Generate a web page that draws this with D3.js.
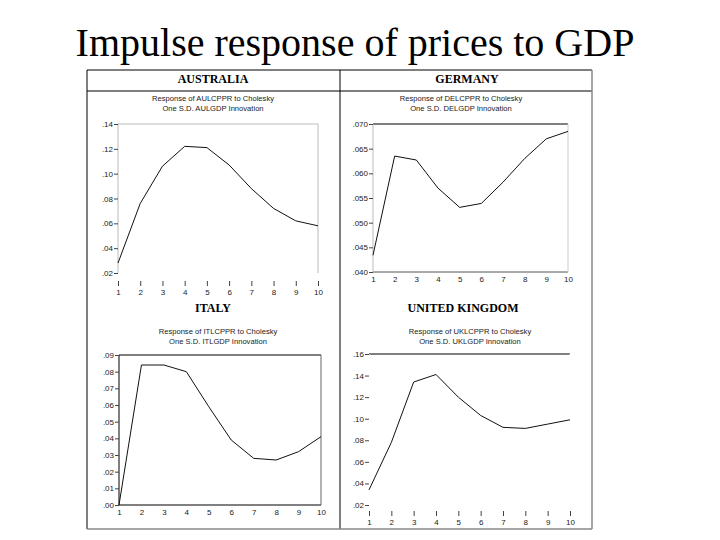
<!DOCTYPE html>
<html><head><meta charset="utf-8">
<script src="https://cdn.jsdelivr.net/npm/d3@7"></script>
<style>body{margin:0;background:#fff}svg{display:block}</style>
</head><body>
<script>
// ---- data ----
const title = "Impulse response of prices to GDP";
const periods = [1,2,3,4,5,6,7,8,9,10];
const countries = ["AUSTRALIA","GERMANY","ITALY","UNITED KINGDOM"];
const subtitles1 = ["Response of AULCPPR to Cholesky","Response of DELCPPR to Cholesky","Response of ITLCPPR to Cholesky","Response of UKLCPPR to Cholesky"];
const subtitles2 = ["One S.D. AULGDP Innovation","One S.D. DELGDP Innovation","One S.D. ITLGDP Innovation","One S.D. UKLGDP Innovation"];
const australia = [0.028,0.076,0.106,0.122,0.121,0.107,0.088,0.072,0.062,0.058];
const germany   = [0.0434,0.0635,0.0627,0.0570,0.0531,0.0539,0.0582,0.0630,0.0670,0.0685];
const italy     = [0.000,0.084,0.084,0.080,0.059,0.039,0.028,0.027,0.032,0.041];
const uk        = [0.034,0.078,0.134,0.141,0.120,0.103,0.092,0.091,0.095,0.099];
const ticksAU = [0.02,0.04,0.06,0.08,0.10,0.12,0.14];
const ticksDE = [0.040,0.045,0.050,0.055,0.060,0.065,0.070];
const ticksIT = [0.00,0.01,0.02,0.03,0.04,0.05,0.06,0.07,0.08,0.09];
const ticksUK = [0.02,0.04,0.06,0.08,0.10,0.12,0.14,0.16];

const W=720,H=540;
const svg=d3.select("body").append("svg").attr("width",W).attr("height",H);

// title
svg.append("text").attr("x",355).attr("y",56).attr("text-anchor","middle")
  .attr("font-family","Liberation Serif, Times New Roman, serif").attr("font-size",40)
  .attr("fill","#000").text(title);

// outer box
const box={l:87,r:592,t:70,b:529,mid:340,hdr:91};
svg.append("line").attr("x1",box.l).attr("x2",box.r).attr("y1",box.t).attr("y2",box.t).attr("stroke","#000");
svg.append("line").attr("x1",box.l).attr("x2",box.r).attr("y1",box.hdr).attr("y2",box.hdr).attr("stroke","#000");
svg.append("line").attr("x1",box.l).attr("x2",box.l).attr("y1",box.t).attr("y2",box.b).attr("stroke","#000");
svg.append("line").attr("x1",box.mid).attr("x2",box.mid).attr("y1",box.t).attr("y2",box.b).attr("stroke","#000");
svg.append("line").attr("x1",box.r).attr("x2",box.r).attr("y1",box.t).attr("y2",box.b).attr("stroke","#888").attr("stroke-width",1.5);
svg.append("line").attr("x1",box.l).attr("x2",box.r).attr("y1",box.b).attr("y2",box.b).attr("stroke","#888").attr("stroke-width",1.5);

const fmt2=v=>d3.format(".2f")(v).replace(/^0/,"");
const fmt3=v=>d3.format(".3f")(v).replace(/^0/,"");

const panels=[
 {name:countries[0],s1:subtitles1[0],s2:subtitles2[0],vals:australia,ticks:ticksAU,fmt:fmt2,
  l:118,r:318,t:124,b:273,hx:213,hy:83,sx:213,sy:101,xoff:8,
  frame:{top:"#bbb",bottom:"#fff",left:"#bbb",right:"#bbb"}},
 {name:countries[1],s1:subtitles1[1],s2:subtitles2[1],vals:germany,ticks:ticksDE,fmt:fmt3,
  l:373,r:568,t:124,b:272,hx:467,hy:83,sx:461,sy:101,xoff:0,
  frame:{top:"#000",bottom:"#555",left:"#bbb",right:"#ccc"}},
 {name:countries[2],s1:subtitles1[2],s2:subtitles2[2],vals:italy,ticks:ticksIT,fmt:fmt2,
  l:119,r:321,t:355,b:505,hx:213,hy:312,sx:218,sy:334,xoff:0,
  frame:{top:"#000",bottom:"#000",left:"#000",right:"#666"}},
 {name:countries[3],s1:subtitles1[3],s2:subtitles2[3],vals:uk,ticks:ticksUK,fmt:fmt2,
  l:369,r:570,t:354,b:505,hx:463,hy:312,sx:470,sy:334,xoff:6,
  frame:{top:"#000",bottom:"#fff",left:"#fff",right:"#fff"}}
];

panels.forEach(p=>{
  const g=svg.append("g");
  g.append("text").attr("x",p.hx).attr("y",p.hy).attr("text-anchor","middle")
   .attr("font-family","Liberation Serif, Times New Roman, serif").attr("font-weight","bold")
   .attr("font-size",12).text(p.name);
  [p.s1,p.s2].forEach((s,i)=>g.append("text").attr("x",p.sx).attr("y",p.sy+i*9.5)
   .attr("text-anchor","middle").attr("font-family","Liberation Sans, Arial, sans-serif")
   .attr("font-size",7.6).attr("fill","#222").text(s));

  const x=d3.scaleLinear().domain([1,10]).range([p.l,p.r]);
  const y=d3.scaleLinear().domain(d3.extent(p.ticks)).range([p.b,p.t]);

  // frame
  const f=p.frame;
  g.append("line").attr("x1",p.l).attr("x2",p.r).attr("y1",p.t).attr("y2",p.t).attr("stroke",f.top);
  g.append("line").attr("x1",p.l).attr("x2",p.r).attr("y1",p.b).attr("y2",p.b).attr("stroke",f.bottom);
  g.append("line").attr("x1",p.l).attr("x2",p.l).attr("y1",p.t).attr("y2",p.b).attr("stroke",f.left);
  g.append("line").attr("x1",p.r).attr("x2",p.r).attr("y1",p.t).attr("y2",p.b).attr("stroke",f.right);

  // y axis
  const ya=g.append("g").attr("transform",`translate(${p.l},0)`)
    .call(d3.axisLeft(y).tickValues(p.ticks).tickFormat(p.fmt).tickSize(4).tickPadding(1));
  ya.select(".domain").remove();
  ya.selectAll("line").attr("stroke","#444");
  ya.selectAll("text").attr("font-family","Liberation Sans, Arial, sans-serif").attr("font-size",8).attr("fill","#222");

  // x axis
  const xa=g.append("g").attr("transform",`translate(0,${p.b+p.xoff})`)
    .call(d3.axisBottom(x).tickValues(periods).tickFormat(d3.format("d")).tickSize(p.xoff?5:0).tickPadding(p.xoff?3:4));
  xa.select(".domain").remove();
  xa.selectAll("line").attr("stroke","#444");
  xa.selectAll("text").attr("font-family","Liberation Sans, Arial, sans-serif").attr("font-size",8).attr("fill","#222");

  // response line
  g.append("path").datum(p.vals)
   .attr("d",d3.line().x((d,i)=>x(periods[i])).y(d=>y(d)))
   .attr("fill","none").attr("stroke","#111").attr("stroke-width",1);
});
</script>
</body></html>
